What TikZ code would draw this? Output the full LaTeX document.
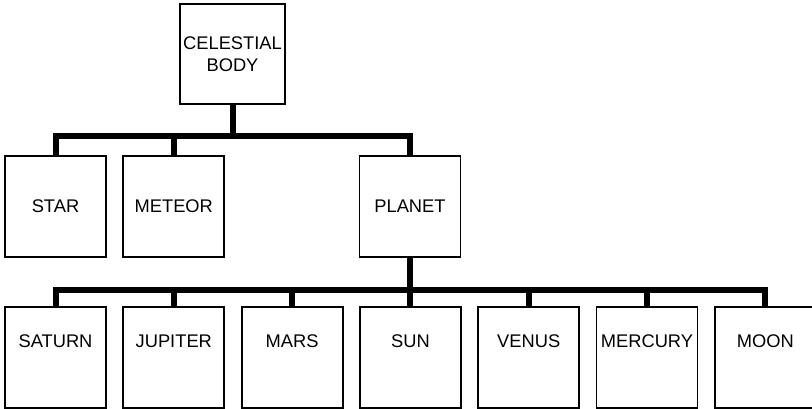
\documentclass[tikz,border=0pt]{standalone}
\usepackage{fontspec}
\setmainfont{Liberation Sans}
\usetikzlibrary{positioning}
\tikzstyle{box}  = [rectangle, draw=black, line width=1.8pt, minimum width=101pt, minimum height=101pt,
                    inner sep=0pt, align=center, font=\fontsize{18.3}{22}\selectfont]
\tikzstyle{root} = [box, minimum width=105pt, minimum height=100pt]
\tikzstyle{leaf} = [box, text height=13.5pt, text depth=34.5pt]
\tikzstyle{link} = [line width=6pt, line join=miter]

\begin{document}
\begin{tikzpicture}[x=1pt, y=-1pt, node distance=15.5pt]
    \useasboundingbox (0,0) rectangle (812,409);
    % top
    \node (body) [root] at (232.5,54) {CELESTIAL\\BODY};
    % second row
    \node (star) [box] at (55.5,206.5) {STAR};
    \node (meteor) [box, right=of star] {METEOR};
    \node (planet) [box] at (410,206.5) {PLANET};
    % planets row
    \node (saturn) [leaf] at (55.5,357.5) {SATURN};
    \node (jupiter) [leaf, right=of saturn] {JUPITER};
    \node (mars) [leaf, right=of jupiter] {MARS};
    \node (sun) [leaf, right=of mars] {SUN};
    \node (venus) [leaf, right=of sun] {VENUS};
    \node (mercury) [leaf, right=of venus] {MERCURY};
    \node (moon) [leaf, right=of mercury] {MOON};

    \foreach \c in {star,meteor,planet}
        \draw[link] (body.south) -- ++(0,31) -| (\c.north);
    \foreach \c in {saturn,jupiter,mars,sun,venus,mercury,moon}
        \draw[link] (planet.south) -- ++(0,32) -| (\c.north);
\end{tikzpicture}
\end{document}
